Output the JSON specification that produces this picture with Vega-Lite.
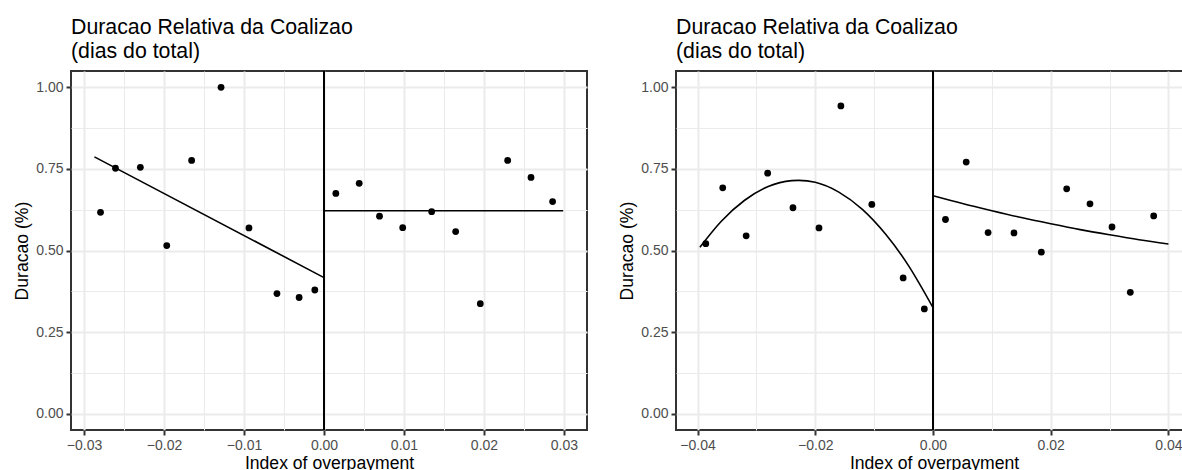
{
  "$schema": "https://vega.github.io/schema/vega-lite/v6.json",
  "background": "white",
  "autosize": {"type": "pad"},
  "padding": {"left": 12, "top": 15, "right": 0, "bottom": 0},
  "bounds": "flush",
  "spacing": 89,
  "datasets": {
    "painel1": [
      {"x": -0.02794, "y": 0.617},
      {"x": -0.02607, "y": 0.752},
      {"x": -0.02296, "y": 0.755},
      {"x": -0.01966, "y": 0.515},
      {"x": -0.01655, "y": 0.776},
      {"x": -0.01287, "y": 1.0},
      {"x": -0.00938, "y": 0.569},
      {"x": -0.00588, "y": 0.368},
      {"x": -0.00311, "y": 0.356},
      {"x": -0.00115, "y": 0.379},
      {"x": 0.00148, "y": 0.675},
      {"x": 0.0044, "y": 0.706},
      {"x": 0.00694, "y": 0.605},
      {"x": 0.00984, "y": 0.57},
      {"x": 0.01346, "y": 0.619},
      {"x": 0.01646, "y": 0.558},
      {"x": 0.01954, "y": 0.337},
      {"x": 0.02296, "y": 0.776},
      {"x": 0.02588, "y": 0.724},
      {"x": 0.02858, "y": 0.65}
    ],
    "ajuste1": [
      {"lado": "esquerda", "x": -0.0287, "y": 0.787},
      {"lado": "esquerda", "x": 0, "y": 0.417},
      {"lado": "direita", "x": 0, "y": 0.622},
      {"lado": "direita", "x": 0.0299, "y": 0.622}
    ],
    "painel2": [
      {"x": -0.0386, "y": 0.521},
      {"x": -0.03572, "y": 0.692},
      {"x": -0.03174, "y": 0.545},
      {"x": -0.02809, "y": 0.737},
      {"x": -0.02379, "y": 0.631},
      {"x": -0.01937, "y": 0.569},
      {"x": -0.01565, "y": 0.943},
      {"x": -0.01039, "y": 0.641},
      {"x": -0.00507, "y": 0.416},
      {"x": -0.00147, "y": 0.321},
      {"x": 0.00212, "y": 0.595},
      {"x": 0.00564, "y": 0.771},
      {"x": 0.00936, "y": 0.555},
      {"x": 0.01376, "y": 0.554},
      {"x": 0.0184, "y": 0.495},
      {"x": 0.02271, "y": 0.689},
      {"x": 0.02667, "y": 0.643},
      {"x": 0.03041, "y": 0.572},
      {"x": 0.03352, "y": 0.372},
      {"x": 0.03749, "y": 0.606}
    ],
    "ajuste2": [
      {"lado": "esquerda", "x": -0.0396, "y": 0.51},
      {"lado": "esquerda", "x": -0.036, "y": 0.589},
      {"lado": "esquerda", "x": -0.032, "y": 0.654},
      {"lado": "esquerda", "x": -0.028, "y": 0.696},
      {"lado": "esquerda", "x": -0.024, "y": 0.714},
      {"lado": "esquerda", "x": -0.02, "y": 0.709},
      {"lado": "esquerda", "x": -0.016, "y": 0.679},
      {"lado": "esquerda", "x": -0.012, "y": 0.626},
      {"lado": "esquerda", "x": -0.008, "y": 0.549},
      {"lado": "esquerda", "x": -0.004, "y": 0.449},
      {"lado": "esquerda", "x": 0, "y": 0.325},
      {"lado": "direita", "x": 0, "y": 0.668},
      {"lado": "direita", "x": 0.005, "y": 0.644},
      {"lado": "direita", "x": 0.01, "y": 0.622},
      {"lado": "direita", "x": 0.015, "y": 0.601},
      {"lado": "direita", "x": 0.02, "y": 0.582},
      {"lado": "direita", "x": 0.025, "y": 0.564},
      {"lado": "direita", "x": 0.03, "y": 0.548},
      {"lado": "direita", "x": 0.035, "y": 0.533},
      {"lado": "direita", "x": 0.04, "y": 0.52}
    ]
  },
  "config": {
    "font": "Liberation Sans",
    "view": {"stroke": "#333333", "strokeWidth": 2},
    "axis": {
      "domain": false,
      "grid": true,
      "gridColor": "#EBEBEB",
      "tickColor": "#333333",
      "tickWidth": 2,
      "tickSize": 5,
      "labelFont": "Liberation Sans",
      "labelFontSize": 14,
      "labelColor": "#4D4D4D",
      "labelPadding": 3,
      "titleFont": "Liberation Sans",
      "titleFontSize": 17.6,
      "titleFontWeight": "normal",
      "titleColor": "#000000"
    },
    "axisX": {"titlePadding": 2},
    "axisY": {"titlePadding": 4},
    "title": {
      "anchor": "start",
      "frame": "group",
      "font": "Liberation Sans",
      "fontSize": 21.3,
      "fontWeight": "normal",
      "color": "#000000",
      "lineHeight": 24,
      "offset": 8
    }
  },
  "hconcat": [
    {
      "width": 516,
      "height": 359,
      "title": {"text": ["Duracao Relativa da Coalizao", "\u2005(dias do total)"]},
      "layer": [
        {
          "data": {"name": "painel1"},
          "mark": {"type": "rule", "color": "#000000", "strokeWidth": 1.6},
          "encoding": {
            "x": {"datum": 0, "type": "quantitative", "scale": {"domain": [-0.03163, 0.03288], "nice": false, "zero": false}}
          }
        },
        {
          "data": {"name": "ajuste1"},
          "mark": {"type": "line", "color": "#000000", "strokeWidth": 1.6},
          "encoding": {
            "x": {"field": "x", "type": "quantitative", "scale": {"domain": [-0.03163, 0.03288], "nice": false, "zero": false}},
            "y": {"field": "y", "type": "quantitative", "scale": {"domain": [-0.05, 1.05], "nice": false, "zero": false}},
            "detail": {"field": "lado", "type": "nominal"}
          }
        },
        {
          "data": {"name": "painel1"},
          "mark": {"type": "circle", "size": 46, "color": "#000000", "opacity": 1},
          "encoding": {
            "x": {
              "field": "x",
              "type": "quantitative",
              "scale": {"domain": [-0.03163, 0.03288], "nice": false, "zero": false},
              "axis": {
                "title": "Index of overpayment",
                "values": [-0.03, -0.025, -0.02, -0.015, -0.01, -0.005, 0, 0.005, 0.01, 0.015, 0.02, 0.025, 0.03],
                "format": ".2f",
                "labelExpr": "abs(datum.value*100 - round(datum.value*100)) > 0.01 ? '' : datum.label",
                "tickOpacity": {"condition": {"test": "abs(datum.value*100 - round(datum.value*100)) > 0.01", "value": 0}, "value": 1},
                "gridWidth": {"condition": {"test": "abs(datum.value*100 - round(datum.value*100)) > 0.01", "value": 1}, "value": 2}
              }
            },
            "y": {
              "field": "y",
              "type": "quantitative",
              "scale": {"domain": [-0.05, 1.05], "nice": false, "zero": false},
              "axis": {
                "title": "Duracao (%)",
                "values": [0, 0.125, 0.25, 0.375, 0.5, 0.625, 0.75, 0.875, 1],
                "format": ".2f",
                "labelExpr": "abs(datum.value*4 - round(datum.value*4)) > 0.01 ? '' : datum.label",
                "tickOpacity": {"condition": {"test": "abs(datum.value*4 - round(datum.value*4)) > 0.01", "value": 0}, "value": 1},
                "gridWidth": {"condition": {"test": "abs(datum.value*4 - round(datum.value*4)) > 0.01", "value": 1}, "value": 2}
              }
            }
          }
        }
      ]
    },
    {
      "width": 516,
      "height": 359,
      "title": {"text": ["Duracao Relativa da Coalizao", "\u2005(dias do total)"]},
      "layer": [
        {
          "data": {"name": "painel2"},
          "mark": {"type": "rule", "color": "#000000", "strokeWidth": 1.6},
          "encoding": {
            "x": {"datum": 0, "type": "quantitative", "scale": {"domain": [-0.04366, 0.044], "nice": false, "zero": false}}
          }
        },
        {
          "data": {"name": "ajuste2"},
          "mark": {"type": "line", "color": "#000000", "strokeWidth": 1.6, "interpolate": "natural"},
          "encoding": {
            "x": {"field": "x", "type": "quantitative", "scale": {"domain": [-0.04366, 0.044], "nice": false, "zero": false}},
            "y": {"field": "y", "type": "quantitative", "scale": {"domain": [-0.05, 1.05], "nice": false, "zero": false}},
            "detail": {"field": "lado", "type": "nominal"}
          }
        },
        {
          "data": {"name": "painel2"},
          "mark": {"type": "circle", "size": 46, "color": "#000000", "opacity": 1},
          "encoding": {
            "x": {
              "field": "x",
              "type": "quantitative",
              "scale": {"domain": [-0.04366, 0.044], "nice": false, "zero": false},
              "axis": {
                "title": "Index of overpayment",
                "values": [-0.04, -0.03, -0.02, -0.01, 0, 0.01, 0.02, 0.03, 0.04],
                "format": ".2f",
                "labelExpr": "abs(datum.value*50 - round(datum.value*50)) > 0.01 ? '' : datum.label",
                "tickOpacity": {"condition": {"test": "abs(datum.value*50 - round(datum.value*50)) > 0.01", "value": 0}, "value": 1},
                "gridWidth": {"condition": {"test": "abs(datum.value*50 - round(datum.value*50)) > 0.01", "value": 1}, "value": 2}
              }
            },
            "y": {
              "field": "y",
              "type": "quantitative",
              "scale": {"domain": [-0.05, 1.05], "nice": false, "zero": false},
              "axis": {
                "title": "Duracao (%)",
                "values": [0, 0.125, 0.25, 0.375, 0.5, 0.625, 0.75, 0.875, 1],
                "format": ".2f",
                "labelExpr": "abs(datum.value*4 - round(datum.value*4)) > 0.01 ? '' : datum.label",
                "tickOpacity": {"condition": {"test": "abs(datum.value*4 - round(datum.value*4)) > 0.01", "value": 0}, "value": 1},
                "gridWidth": {"condition": {"test": "abs(datum.value*4 - round(datum.value*4)) > 0.01", "value": 1}, "value": 2}
              }
            }
          }
        }
      ]
    }
  ]
}
